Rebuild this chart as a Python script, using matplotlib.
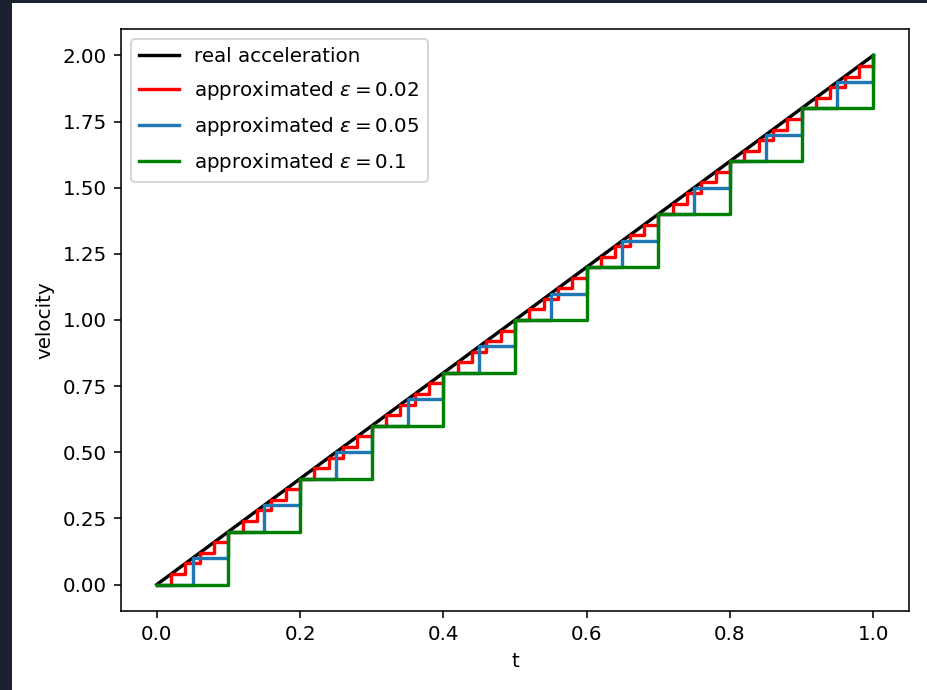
import matplotlib
matplotlib.use("Agg")
import matplotlib.pyplot as plt
from matplotlib.patches import Rectangle

# real acceleration: v = 2t
t_real = [0.0, 1.0]
v_real = [0.0, 2.0]

# step approximations, eps = 0.1
t_01 = [0.0, 0.1, 0.2, 0.3, 0.4, 0.5, 0.6, 0.7, 0.8, 0.9, 1.0]
v_01 = [0.0, 0.2, 0.4, 0.6, 0.8, 1.0, 1.2, 1.4, 1.6, 1.8, 2.0]

# eps = 0.05
t_005 = [0.0, 0.05, 0.1, 0.15, 0.2, 0.25, 0.3, 0.35, 0.4, 0.45, 0.5,
         0.55, 0.6, 0.65, 0.7, 0.75, 0.8, 0.85, 0.9, 0.95, 1.0]
v_005 = [0.0, 0.1, 0.2, 0.3, 0.4, 0.5, 0.6, 0.7, 0.8, 0.9, 1.0,
         1.1, 1.2, 1.3, 1.4, 1.5, 1.6, 1.7, 1.8, 1.9, 2.0]

# eps = 0.02
t_002 = [0.0, 0.02, 0.04, 0.06, 0.08, 0.1, 0.12, 0.14, 0.16, 0.18,
         0.2, 0.22, 0.24, 0.26, 0.28, 0.3, 0.32, 0.34, 0.36, 0.38,
         0.4, 0.42, 0.44, 0.46, 0.48, 0.5, 0.52, 0.54, 0.56, 0.58,
         0.6, 0.62, 0.64, 0.66, 0.68, 0.7, 0.72, 0.74, 0.76, 0.78,
         0.8, 0.82, 0.84, 0.86, 0.88, 0.9, 0.92, 0.94, 0.96, 0.98, 1.0]
v_002 = [0.0, 0.04, 0.08, 0.12, 0.16, 0.2, 0.24, 0.28, 0.32, 0.36,
         0.4, 0.44, 0.48, 0.52, 0.56, 0.6, 0.64, 0.68, 0.72, 0.76,
         0.8, 0.84, 0.88, 0.92, 0.96, 1.0, 1.04, 1.08, 1.12, 1.16,
         1.2, 1.24, 1.28, 1.32, 1.36, 1.4, 1.44, 1.48, 1.52, 1.56,
         1.6, 1.64, 1.68, 1.72, 1.76, 1.8, 1.84, 1.88, 1.92, 1.96, 2.0]


def main():
    dpi = 143
    fig = plt.figure(figsize=(927 / dpi, 690 / dpi), dpi=dpi)
    fig.patch.set_facecolor('#1b2130')
    # white canvas of the screenshot, behind the axes
    fig.patches.append(Rectangle((12 / 927, 0), 1, 687 / 690,
                                 transform=fig.transFigure,
                                 facecolor='white', edgecolor='none', zorder=-10))

    ax = fig.add_axes([121 / 927, 1 - 611 / 690, 788 / 927, 582 / 690])

    ax.plot(t_real, v_real, color='k', lw=1.7, label='real acceleration')
    ax.step(t_002, v_002, where='post', color='r', lw=1.7, label=r'approximated $\varepsilon = 0.02$')
    ax.step(t_005, v_005, where='post', color='tab:blue', lw=1.7, label=r'approximated $\varepsilon = 0.05$')
    ax.step(t_01, v_01, where='post', color='g', lw=1.7, label=r'approximated $\varepsilon = 0.1$')

    ax.set_xlabel('t')
    ax.set_ylabel('velocity')
    ax.legend(loc='upper left', labelspacing=0.65)

    fig.savefig('out.png', dpi=dpi, facecolor=fig.get_facecolor())


if __name__ == '__main__':
    main()
